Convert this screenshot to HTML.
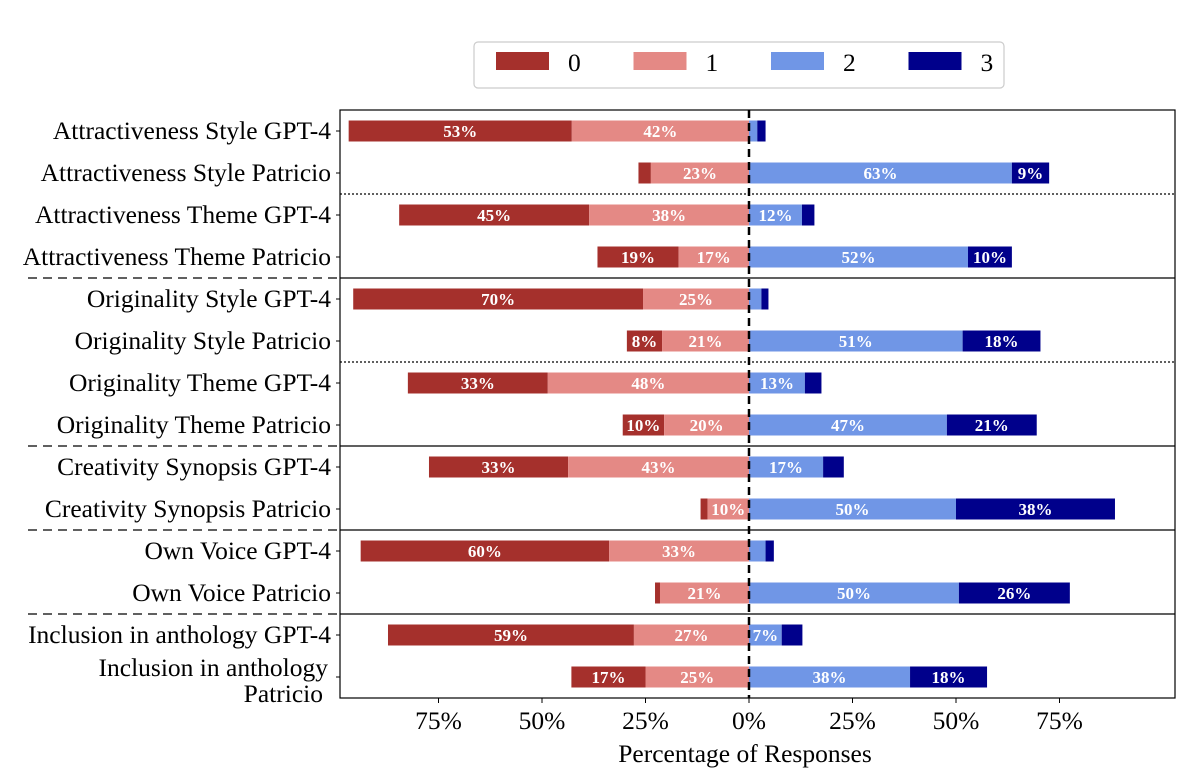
<!DOCTYPE html>
<html><head><meta charset="utf-8"><style>
body{margin:0;background:#fff;}
svg text{font-family:"Liberation Serif",serif;}
</style></head><body>
<svg id="chart" width="1200" height="773" viewBox="0 0 1200 773"></svg>
<script>
const categories=["Attractiveness Style GPT-4","Attractiveness Style Patricio","Attractiveness Theme GPT-4","Attractiveness Theme Patricio","Originality Style GPT-4","Originality Style Patricio ","Originality Theme GPT-4","Originality Theme Patricio","Creativity Synopsis GPT-4","Creativity Synopsis Patricio","Own Voice GPT-4","Own Voice Patricio","Inclusion in anthology GPT-4","Inclusion in anthology|Patricio"];
const score0=[53.9,3,45.9,19.6,70,8.5,33.8,10,33.6,1.7,60,1.2,59.4,17.9];
const score1=[42.8,23.7,38.6,17,25.6,21,48.6,20.5,43.7,10,33.8,21.5,27.8,25];
const score2=[2,63.5,12.8,52.9,3,51.6,13.5,47.8,17.9,50,4,50.7,7.9,38.9];
const score3=[2,9,3,10.6,1.7,18.8,4,21.7,5,38.4,2,26.8,5,18.6];
const tickValues=[-75,-50,-25,0,25,50,75];
const tickLabels=["75%","50%","25%","0%","25%","50%","75%"];
const legendLabels=["0","1","2","3"];
const colors=["#a5302c","#e48985","#7096e6","#00008b"];
const NS="http://www.w3.org/2000/svg";
const svg=document.getElementById('chart');
const L=340,R=1175,T=110,B=698,Z=749,PX=4.14;
const x=v=>Z+v*PX;
const rowY=i=>131+i*42;
function mk(t,a,p){const e=document.createElementNS(NS,t);for(const k in a)e.setAttribute(k,a[k]);(p||svg).appendChild(e);return e;}
for(let i=0;i<categories.length;i++){
  const segs=[[-score0[i]-score1[i],score0[i],0],[-score1[i],score1[i],1],[0,score2[i],2],[score2[i],score3[i],3]];
  segs.forEach(([s,w,c])=>{
    const r=mk('rect',{x:x(s),y:rowY(i)-10.5,width:w*PX,height:21,fill:colors[c]});
    
    
    if(w>=7){
      const t=mk('text',{x:x(s+w/2),y:rowY(i)+6,'text-anchor':'middle','font-size':17,'font-weight':'bold',fill:'#fff'});
      t.textContent=Math.floor(w)+'%';
      
      
    }
  });
  const parts=categories[i].split('|');
  if(parts.length===1){
    const t=mk('text',{x:331,y:rowY(i)+8,'text-anchor':'end','font-size':25.5,fill:'#000'});t.textContent=parts[0];
    
    
  }else{
    parts.forEach((p,k)=>{const t=mk('text',{x:(k?323:328),y:rowY(i)-1+k*26,'text-anchor':'end','font-size':25.5,fill:'#000'});t.textContent=p;
    
    });
  }
  mk('line',{x1:336,x2:L,y1:rowY(i),y2:rowY(i),stroke:'#000','stroke-width':1});
}
[278,446,530,614].forEach(y=>{
  mk('line',{x1:L,x2:R,y1:y,y2:y,stroke:'#000','stroke-width':1.3});
  mk('line',{x1:28,x2:L,y1:y,y2:y,stroke:'#000','stroke-width':1.3,'stroke-dasharray':'9,6'});
});
[194,362].forEach(y=>mk('line',{x1:L,x2:R,y1:y,y2:y,stroke:'#000','stroke-width':1.2,'stroke-dasharray':'2,2'}));
mk('line',{x1:Z,x2:Z,y1:T,y2:B,stroke:'#000','stroke-width':2.5,'stroke-dasharray':'8,5'});
const f=mk('rect',{x:L,y:T,width:R-L,height:B-T,fill:'none',stroke:'#000','stroke-width':1.2});

tickValues.forEach((v,k)=>{
  mk('line',{x1:x(v),x2:x(v),y1:B,y2:B+5,stroke:'#000'});
  const t=mk('text',{x:x(v),y:B+31,'text-anchor':'middle','font-size':25.5,fill:'#000'});t.textContent=tickLabels[k];
  
  
});
const xt=mk('text',{x:745,y:762,'text-anchor':'middle','font-size':25.5,fill:'#000'});xt.textContent='Percentage of Responses';


const lg=mk('g',{});


mk('rect',{x:474,y:42,width:530,height:46,rx:4,fill:'#fff',stroke:'#ccc','stroke-width':1.2},lg);
legendLabels.forEach((lab,k)=>{
  const px=496+k*137.5;
  const p=mk('rect',{x:px,y:52,width:53,height:18,fill:colors[k]},lg);
  
  
  const t=mk('text',{x:px+72,y:71,'font-size':25.5,fill:'#000'},lg);t.textContent=lab;
  
  
});
</script>
</body></html>
